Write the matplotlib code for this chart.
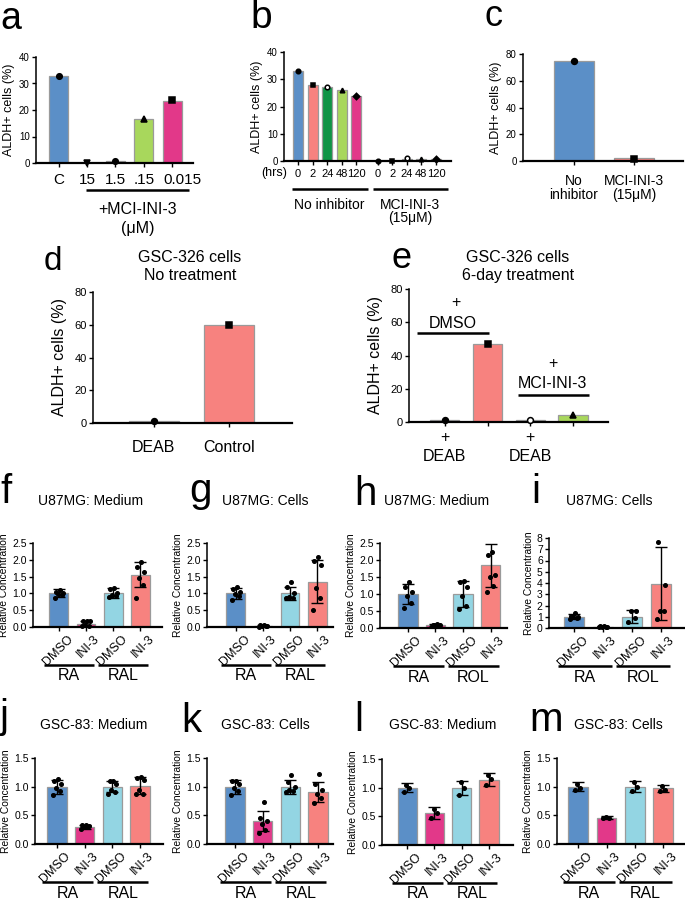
import numpy as np
import matplotlib
matplotlib.use("Agg")
import matplotlib.pyplot as plt
from matplotlib.transforms import blended_transform_factory, ScaledTranslation

plt.rcParams['font.family'] = ['Liberation Sans', 'DejaVu Sans']

# ---------------- data ----------------
a_labels = ['C', '15', '1.5', '.15', '0.015']
a_values = [33.0, 0.1, 0.8, 16.7, 23.5]
a_points = [33.0, 0.0, 0.9, 16.5, 23.7]

b_labels = ['0', '2', '24', '48', '120', '0', '2', '24', '48', '120']
b_values = [33.0, 28.0, 27.0, 26.0, 24.0, 0.1, 0.1, 0.8, 0.7, 0.8]
b_points = [33.0, 28.0, 27.2, 26.0, 24.0, 0.1, 0.1, 1.0, 0.7, 0.8]
b_groups = ['No inhibitor', 'MCI-INI-3']

c_labels = ['No\ninhibitor', 'MCI-INI-3\n(15μM)']
c_values = [75.0, 2.0]
c_points = [75.0, 1.5]

d_labels = ['DEAB', 'Control']
d_values = [1.5, 60.0]
d_points = [1.5, 60.0]

e_values = [1.5, 47.0, 1.2, 4.5]
e_points = [1.5, 47.0, 1.2, 4.2]

rel_labels = ['DMSO', 'INI-3', 'DMSO', 'INI-3']

f_means = [1.0, 0.10, 1.0, 1.55]
f_sds = [0.12, 0.09, 0.15, 0.37]
f_pts = [[0.87, 0.95, 0.98, 1.02, 1.05, 1.10], [0.02, 0.03, 0.05, 0.17, 0.18, 0.18],
         [0.88, 0.92, 0.95, 1.0, 1.12, 1.15], [0.85, 1.25, 1.45, 1.65, 1.78, 1.92]]
g_means = [1.0, 0.03, 1.0, 1.35]
g_sds = [0.17, 0.02, 0.20, 0.63]
g_pts = [[0.8, 0.92, 0.97, 1.03, 1.12, 1.2], [0.01, 0.02, 0.03, 0.04, 0.05, 0.06],
         [0.85, 0.87, 0.9, 1.0, 1.18, 1.33], [0.5, 0.85, 1.15, 1.85, 1.95, 2.07]]
h_means = [1.0, 0.08, 1.0, 1.84]
h_sds = [0.28, 0.03, 0.38, 0.62]
h_pts = [[0.6, 0.75, 0.95, 1.05, 1.2, 1.35], [0.05, 0.07, 0.08, 0.09, 0.1, 0.11],
         [0.55, 0.65, 0.95, 1.2, 1.35, 1.38], [1.05, 1.25, 1.5, 1.55, 2.15, 2.25]]
i_means = [1.0, 0.1, 1.0, 3.95]
i_sds = [0.22, 0.05, 0.58, 3.25]
i_pts = [[0.8, 0.85, 0.95, 1.0, 1.05, 1.35], [0.05, 0.08, 0.1, 0.12, 0.15, 0.18],
         [0.5, 0.9, 1.5, 1.55], [0.8, 1.5, 1.55, 3.85, 7.65]]
j_means = [1.0, 0.30, 1.0, 1.02]
j_sds = [0.12, 0.03, 0.10, 0.14]
j_pts = [[0.85, 0.92, 0.97, 1.05, 1.1, 1.14], [0.27, 0.29, 0.3, 0.31, 0.33, 0.34],
         [0.88, 0.9, 0.95, 1.05, 1.1, 1.1], [0.87, 0.88, 0.95, 1.12, 1.15, 1.16]]
k_means = [1.0, 0.40, 1.0, 0.91]
k_sds = [0.12, 0.18, 0.12, 0.18]
k_pts = [[0.85, 0.93, 0.98, 1.05, 1.1, 1.1], [0.2, 0.25, 0.35, 0.4, 0.45, 0.73],
         [0.9, 0.92, 0.95, 1.0, 1.08, 1.2], [0.72, 0.8, 0.88, 0.95, 1.05, 1.22]]
l_means = [1.0, 0.56, 1.0, 1.14]
l_sds = [0.08, 0.10, 0.12, 0.11]
l_pts = [[0.93, 1.0, 1.05], [0.47, 0.55, 0.62], [0.88, 1.0, 1.1], [1.05, 1.15, 1.22]]
m_means = [1.0, 0.46, 1.0, 0.97]
m_sds = [0.08, 0.02, 0.10, 0.06]
m_pts = [[0.95, 0.98, 1.05], [0.45, 0.46, 0.47], [0.92, 1.0, 1.08], [0.93, 0.95, 1.02]]

# ---------------- style ----------------
BLUE = '#5b8fc7'
SALMON = '#f7827f'
DKGREEN = '#0f9446'
LTGREEN = '#a8d75c'
MAGENTA = '#e23889'
CYAN = '#93d5e3'
PINK = '#d98ecb'
EDGE = '#9a9a9a'

W, H = 685, 901
fig = plt.figure(figsize=(W / 100, H / 100), dpi=100)


def make_ax(left, right, top, bottom):
    ax = fig.add_axes([left / W, 1 - bottom / H, (right - left) / W, (bottom - top) / H])
    for s in ['top', 'right']:
        ax.spines[s].set_visible(False)
    ax.spines['left'].set_linewidth(1.1)
    ax.spines['bottom'].set_linewidth(1.6)
    ax.tick_params(direction='out', length=3, width=1.0, pad=1.5, color='black')
    return ax


def shift(dx, dy):
    return ScaledTranslation(dx / 100, -dy / 100, fig.dpi_scale_trans)


def off(ax, dx, dy):
    """blended transform: x in data, y in axes fraction, shifted by pixels"""
    return blended_transform_factory(ax.transData, ax.transAxes) + shift(dx, dy)


def hline_below(ax, x0, x1, dy, lw=1.8):
    ax.plot([x0, x1], [0, 0], color='black', lw=lw, transform=off(ax, 0, dy),
            clip_on=False, solid_capstyle='butt')


def letter(x, y, s, size=27):
    fig.text(x / W, 1 - y / H, s, fontsize=size, ha='left', va='baseline')


def ftext(x, y, s, size, **kw):
    fig.text(x / W, 1 - y / H, s, fontsize=size, ha='center', va='center', **kw)


def markers(ax, x, pts, mk, size=4.2):
    for xi, p, m in zip(x, pts, mk):
        fc = 'white' if m == 'O' else 'black'
        mm = 'o' if m == 'O' else m
        ax.plot([xi], [p], marker=mm, ms=size, mfc=fc, mec='black', mew=1.1,
                ls='none', zorder=4, clip_on=False)


# ---------------- panel a ----------------
ax = make_ax(36, 193, 57, 163)
xa = np.arange(len(a_values))
ax.bar(xa, a_values, width=0.67, color=[BLUE, DKGREEN, '#1d4a2b', LTGREEN, MAGENTA],
       edgecolor=EDGE, linewidth=0.9, zorder=2)
markers(ax, xa, a_points, ['o', 'v', 'o', '^', 's'], 4.0)
ax.set_xlim(-0.81, 4.74)
ax.set_ylim(0, 40)
ax.set_yticks(np.arange(0, 41, 10))
ax.set_xticks(xa)
ax.set_xticklabels(a_labels, fontsize=11)
ax.tick_params(axis='x', pad=4)
ax.tick_params(axis='y', labelsize=7)
lab = ax.get_xticklabels()[-1]
lab.set_transform(lab.get_transform() + shift(10, 0))
ax.set_ylabel('ALDH+ cells (%)', fontsize=9, labelpad=3)
hline_below(ax, 0.95, 4.6, 27)
ax.text(2.77, 0, '+MCI-INI-3', transform=off(ax, 0, 46), ha='center', va='center', fontsize=11.5)
ax.text(2.77, 0, '(μM)', transform=off(ax, 0, 65), ha='center', va='center', fontsize=11.5)
letter(0, 29, 'a')

# ---------------- panel b ----------------
ax = make_ax(284, 451, 52, 161)
xb = np.r_[np.arange(5), np.arange(5) + 5.45]
ax.bar(xb, b_values, width=0.68, color=[BLUE, SALMON, DKGREEN, LTGREEN, MAGENTA] * 2,
       edgecolor=EDGE, linewidth=0.9, zorder=2)
markers(ax, xb, b_points, ['o', 's', 'O', '^', 'D'] * 2, size=3.3)
ax.set_xlim(-0.96, 10.48)
ax.set_ylim(0, 40)
ax.set_yticks(np.arange(0, 41, 10))
ax.set_xticks(xb)
ax.set_xticklabels(b_labels, fontsize=8)
ax.tick_params(axis='x', pad=2.5)
ax.tick_params(axis='y', labelsize=7)
ax.set_ylabel('ALDH+ cells (%)', fontsize=9, labelpad=3)
ax.text(-1.64, 0, '(hrs)', transform=off(ax, 0, 12), ha='center', va='center', fontsize=9)
hline_below(ax, -0.41, 4.79, 28)
hline_below(ax, 5.14, 10.27, 28)
ax.text(2.12, 0, b_groups[0], transform=off(ax, 0, 44), ha='center', va='center', fontsize=10)
ax.text(7.67, 0, b_groups[1], transform=off(ax, 0, 44), ha='center', va='center', fontsize=10)
ax.text(7.67, 0, '(15μM)', transform=off(ax, 0, 57), ha='center', va='center', fontsize=10)
letter(250, 28, 'b', 28)

# ---------------- panel c ----------------
ax = make_ax(523, 683, 54, 161)
xc = np.arange(2)
ax.bar(xc, c_values, width=0.67, color=[BLUE, SALMON], edgecolor=EDGE, linewidth=0.9, zorder=2)
markers(ax, xc, c_points, ['o', 's'])
ax.set_xlim(-0.85, 1.82)
ax.set_ylim(0, 80)
ax.set_yticks(np.arange(0, 81, 20))
ax.set_xticks(xc)
ax.set_xticklabels(c_labels, fontsize=10, linespacing=1.05)
ax.tick_params(axis='x', pad=6)
ax.tick_params(axis='y', labelsize=7)
ax.set_ylabel('ALDH+ cells (%)', fontsize=9, labelpad=3)
letter(484, 26, 'c', 26)

# ---------------- panel d ----------------
ax = make_ax(93, 292, 292, 423)
xd = np.arange(2)
ax.bar(xd, d_values, width=0.67, color=[BLUE, SALMON], edgecolor=EDGE, linewidth=0.9, zorder=2)
markers(ax, xd, d_points, ['o', 's'])
ax.set_xlim(-0.81, 1.84)
ax.set_ylim(0, 80)
ax.set_yticks(np.arange(0, 81, 20))
ax.set_xticks(xd)
ax.set_xticklabels(d_labels, fontsize=11.5)
ax.tick_params(axis='x', pad=9)
ax.tick_params(axis='y', labelsize=8)
ax.set_ylabel('ALDH+ cells (%)', fontsize=11.5, labelpad=5)
ftext(190, 266.5, 'GSC-326 cells\nNo treatment', 11.5)
letter(44, 270, 'd', 24)

# ---------------- panel e ----------------
ax = make_ax(409, 608, 289, 422)
xe = np.arange(4)
ax.bar(xe, e_values, width=0.68, color=[BLUE, SALMON, PINK, LTGREEN], edgecolor=EDGE,
       linewidth=0.9, zorder=2)
markers(ax, xe, e_points, ['o', 's', 'O', '^'])
ax.set_xlim(-0.84, 3.82)
ax.set_ylim(0, 80)
ax.set_yticks(np.arange(0, 81, 20))
ax.set_xticks(xe)
ax.set_xticklabels([])
ax.tick_params(axis='y', labelsize=8)
ax.set_ylabel('ALDH+ cells (%)', fontsize=11.5, labelpad=5)
for xi in [0, 2]:
    ax.text(xi, 0, '+', transform=off(ax, 0, 15), ha='center', va='center', fontsize=11.5)
    ax.text(xi, 0, 'DEAB', transform=off(ax, 0, 34), ha='center', va='center', fontsize=11.5)
ax.text(0.26, 71.6, '+', ha='center', va='center', fontsize=11.5)
ax.text(0.19, 59.5, 'DMSO', ha='center', va='center', fontsize=11.5)
ax.plot([-0.66, 1.03], [53.5, 53.5], color='black', lw=1.8, solid_capstyle='butt')
ax.text(2.53, 34.9, '+', ha='center', va='center', fontsize=11.5)
ax.text(2.53, 22.9, 'MCI-INI-3', ha='center', va='center', fontsize=11.5)
ax.plot([1.71, 3.37], [16.2, 16.2], color='black', lw=1.8, solid_capstyle='butt')
ftext(518, 266.5, 'GSC-326 cells\n6-day treatment', 11.5)
letter(392, 268, 'e', 26)

# ---------------- panels f-m ----------------
REL_COLORS = [BLUE, MAGENTA, CYAN, SALMON]
JIT = [-0.14, 0.1, -0.04, 0.15, -0.1, 0.04]


def rel_panel(px, xlim, ytop, ystep, means, sds, pts, groups, title, tpos, let, lpos):
    ax = make_ax(*px)
    x = np.arange(len(means))
    ax.bar(x, means, width=0.7, color=REL_COLORS, edgecolor=EDGE, linewidth=0.9, zorder=2)
    ax.errorbar(x, means, yerr=sds, fmt='none', ecolor='black', elinewidth=1.0,
                capsize=4, capthick=1.0, zorder=3)
    for xi, p in zip(x, pts):
        offs = np.array(JIT[:len(p)]) * (1.0 if len(p) > 3 else 0.8)
        ax.plot(xi + offs, p, 'o', color='black', ms=2.6, zorder=4, clip_on=False)
    ax.set_xlim(*xlim)
    ax.set_ylim(0, ytop)
    yt = np.arange(0, ytop + ystep / 2, ystep)
    ax.set_yticks(yt)
    if ystep < 1:
        ax.set_yticklabels(['%.1f' % v for v in yt])
    ax.tick_params(axis='y', labelsize=7.5)
    ax.set_xticks(x)
    ax.set_xticklabels([])
    ax.set_ylabel('Relative Concentration', fontsize=7.4, labelpad=2)
    for xi, lab in zip(x, rel_labels):
        ax.text(xi, 0, lab, transform=off(ax, 12, 10), rotation=45, ha='right', va='center',
                rotation_mode='anchor', fontsize=9)
    for gi, g in enumerate(groups):
        c = 2 * gi + 0.5
        hline_below(ax, c - 1.05, c + 0.8, 38)
        ax.text(c - 0.12, 0, g, transform=off(ax, 0, 49), ha='center', va='center', fontsize=11.5)
    fig.text(tpos[0] / W, 1 - tpos[1] / H, title, fontsize=10, ha='center', va='baseline')
    letter(lpos[0], lpos[1], let, 29)
    return ax


rel_panel((33, 162, 543, 627), (-0.96, 3.81), 2.5, 0.5, f_means, f_sds, f_pts, ['RA', 'RAL'],
          'U87MG: Medium', (91, 505), 'f', (0, 503))
rel_panel((207, 333, 543, 627), (-1.07, 3.59), 2.5, 0.5, g_means, g_sds, g_pts, ['RA', 'RAL'],
          'U87MG: Cells', (265, 505), 'g', (189, 502))
rel_panel((380, 507, 543, 628), (-1.01, 3.59), 2.5, 0.5, h_means, h_sds, h_pts, ['RA', 'ROL'],
          'U87MG: Medium', (437, 505), 'h', (354, 505))
rel_panel((549, 690, 538, 628), (-0.86, 4.0), 8, 1, i_means, i_sds, i_pts, ['RA', 'ROL'],
          'U87MG: Cells', (609, 505), 'i', (531, 503))
rel_panel((35, 163, 758, 844), (-0.79, 3.83), 1.5, 0.5, j_means, j_sds, j_pts, ['RA', 'RAL'],
          'GSC-83: Medium', (94, 729), 'j', (0, 728))
rel_panel((207, 333, 758, 844), (-1.01, 3.54), 1.5, 0.5, k_means, k_sds, k_pts, ['RA', 'RAL'],
          'GSC-83: Cells', (265, 729), 'k', (181, 732))
rel_panel((382, 513, 759, 845), (-0.92, 3.88), 1.5, 0.5, l_means, l_sds, l_pts, ['RA', 'RAL'],
          'GSC-83: Medium', (443, 729), 'l', (354, 731))
rel_panel((557, 690, 758, 844), (-0.75, 3.95), 1.5, 0.5, m_means, m_sds, m_pts, ['RA', 'RAL'],
          'GSC-83: Cells', (618, 729), 'm', (529, 731))

fig.savefig('out.png', dpi=100)
